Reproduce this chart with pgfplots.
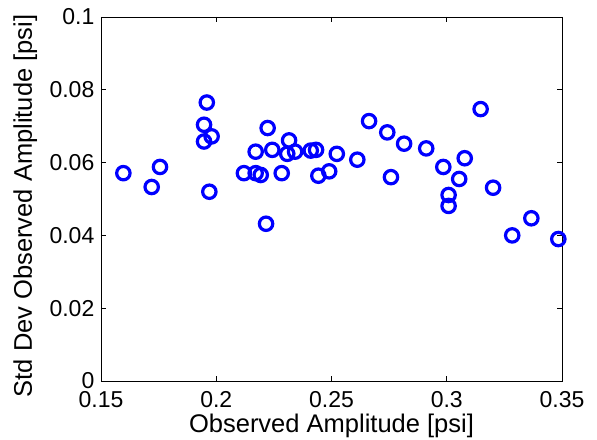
\documentclass[border=0pt]{standalone}
\usepackage{fontspec}
\setmainfont{Liberation Sans}
\usepackage{pgfplots}
\pgfplotsset{compat=1.18}
\begin{document}
\begin{tikzpicture}
\begin{axis}[
 scale only axis, width=461bp, height=364bp,
 xmin=0.15,xmax=0.35,ymin=0,ymax=0.1,
 xtick={0.15,0.2,0.25,0.3,0.35}, xticklabels={0.15,0.2,0.25,0.3,0.35},
 ytick={0,0.02,0.04,0.06,0.08,0.1}, yticklabels={0,0.02,0.04,0.06,0.08,0.1},
 tick align=inside, major tick length=5bp,
 axis line style={line width=0.8bp},
 every tick/.style={black, line width=0.8bp},
 ticklabel style={font=\fontsize{23bp}{27bp}\selectfont, inner sep=0pt},
 label style={font=\fontsize{25.5bp}{30bp}\selectfont},
 xticklabel style={anchor=north, yshift=-10bp},
 yticklabel style={anchor=east, xshift=-6.5bp},
 xlabel={Observed Amplitude [psi]},
 ylabel={Std Dev Observed Amplitude [psi]},
 xlabel style={at={([yshift=-51bp]axis description cs:0.5,0)}, anchor=base, inner sep=0pt},
 ylabel style={at={([xshift=-69bp,yshift=-7bp]axis description cs:0,0.5)}, anchor=base, inner sep=0pt, rotate=0},
]
\addplot[only marks, mark=o, mark size=6.7bp, mark options={line width=3.2bp, draw={rgb,255:red,0;green,0;blue,255}}] coordinates {
(0.1597,0.0571) (0.1720,0.0533) (0.1756,0.0588) (0.1959,0.0765) (0.1947,0.0704)
(0.1947,0.0658) (0.1980,0.0672) (0.1970,0.0520) (0.2223,0.0695) (0.2120,0.0571)
(0.2171,0.0630) (0.2171,0.0571) (0.2193,0.0566) (0.2243,0.0635) (0.2284,0.0571)
(0.2316,0.0661) (0.2308,0.0624) (0.2342,0.0630) (0.2410,0.0633) (0.2433,0.0635)
(0.2216,0.0432) (0.2443,0.0564) (0.2490,0.0576) (0.2523,0.0624) (0.2612,0.0608)
(0.2663,0.0714) (0.2742,0.0683) (0.2758,0.0560) (0.2815,0.0652) (0.2911,0.0639)
(0.2985,0.0588) (0.3078,0.0612) (0.3054,0.0555) (0.3147,0.0747) (0.3008,0.0511)
(0.3008,0.0481) (0.3201,0.0531) (0.3284,0.0400) (0.3367,0.0447) (0.3484,0.0390)
};
\coordinate (sw) at (rel axis cs:0,0);
\end{axis}
\pgfresetboundingbox
\path (sw) ++(-101bp,-59bp) rectangle ++(597bp,440bp);
\end{tikzpicture}
\end{document}
